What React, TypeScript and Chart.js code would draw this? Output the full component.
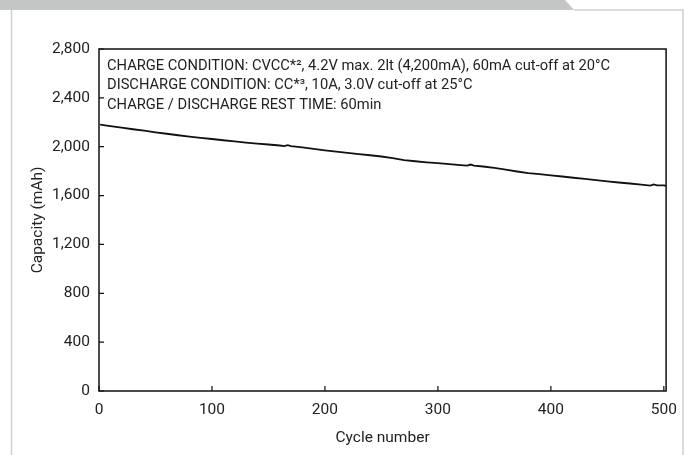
import React, { useEffect, useRef } from "react";
import { Chart, registerables } from "chart.js";

Chart.register(...registerables);

const cycles = [1, 10, 20, 30, 40, 50, 60, 70, 80, 90, 100, 110, 120, 130, 140, 150, 160, 164, 167, 170, 180, 190, 200, 210, 220, 230, 240, 250, 260, 270, 280, 290, 300, 310, 320, 326, 329, 332, 340, 350, 360, 370, 380, 390, 400, 410, 420, 430, 440, 450, 460, 470, 480, 488, 491, 494, 500, 502];
const capacity = [2180, 2168, 2156, 2143, 2131, 2118, 2106, 2094, 2082, 2072, 2063, 2053, 2043, 2034, 2026, 2018, 2010, 2005, 2012, 2005, 1994, 1982, 1970, 1960, 1950, 1940, 1930, 1920, 1906, 1891, 1881, 1872, 1865, 1858, 1850, 1846, 1854, 1845, 1838, 1826, 1812, 1797, 1783, 1775, 1765, 1756, 1746, 1736, 1727, 1717, 1707, 1699, 1690, 1682, 1691, 1684, 1683, 1680];

const xTickValues = [0, 100, 200, 300, 400, 500];
const yTickValues = [0, 400, 800, 1200, 1600, 2000, 2400, 2800];

const noteLines = [
  "CHARGE CONDITION: CVCC*\u00B2, 4.2V max. 2lt (4,200mA), 60mA cut-off at 20\u00B0C",
  "DISCHARGE CONDITION: CC*\u00B3, 10A, 3.0V cut-off at 25\u00B0C",
  "CHARGE / DISCHARGE REST TIME: 60min",
];

const xTitle = "Cycle number";
const yTitle = "Capacity (mAh)";

const FONT = "Roboto, 'DejaVu Sans', sans-serif";

const decorPlugin = {
  id: "decor",
  beforeDraw(chart: any) {
    const ctx = chart.ctx;
    ctx.save();
    ctx.fillStyle = "#ffffff";
    ctx.fillRect(0, 0, chart.width, chart.height);
    ctx.fillStyle = "#c4c5c5";
    ctx.beginPath();
    ctx.moveTo(0, 0);
    ctx.lineTo(565, 0);
    ctx.lineTo(574, 10);
    ctx.lineTo(0, 10);
    ctx.closePath();
    ctx.fill();
    ctx.strokeStyle = "#cfcfcf";
    ctx.lineWidth = 1.5;
    ctx.beginPath();
    ctx.moveTo(11.5, 10);
    ctx.lineTo(11.5, chart.height);
    ctx.moveTo(574, 10);
    ctx.lineTo(683, 10);
    ctx.lineTo(683, chart.height);
    ctx.stroke();
    ctx.restore();
  },
  afterDraw(chart: any) {
    const ctx = chart.ctx;
    const a = chart.chartArea;
    const xs = chart.scales.x;
    const ys = chart.scales.y;
    ctx.save();
    ctx.strokeStyle = "#111111";
    ctx.lineWidth = 1.5;
    ctx.strokeRect(a.left, a.top, a.right - a.left, a.bottom - a.top);
    ctx.lineWidth = 1.2;
    ctx.beginPath();
    xTickValues.forEach((v) => {
      const px = xs.getPixelForValue(v);
      ctx.moveTo(px, a.bottom);
      ctx.lineTo(px, a.bottom - 5);
    });
    yTickValues.forEach((v) => {
      const py = ys.getPixelForValue(v);
      ctx.moveTo(a.left, py);
      ctx.lineTo(a.left + 5, py);
    });
    ctx.stroke();
    ctx.fillStyle = "#222222";
    ctx.font = "14.7px " + FONT;
    ctx.textBaseline = "middle";
    ctx.textAlign = "left";
    noteLines.forEach((t, i) => {
      ctx.fillText(t, a.left + 8, a.top + 17 + i * 19.5);
    });
    ctx.restore();
  },
};

export default function App() {
  const ref = useRef<HTMLCanvasElement>(null);
  useEffect(() => {
    if (!ref.current) return;
    const chart = new Chart(ref.current, {
      type: "line",
      data: {
        datasets: [
          {
            data: cycles.map((c, i) => ({ x: c, y: capacity[i] })),
            borderColor: "#111111",
            borderWidth: 1.8,
            pointRadius: 0,
            tension: 0,
            fill: false,
          },
        ],
      },
      options: {
        responsive: false,
        animation: false,
        events: [],
        layout: { padding: { left: 0, top: 49, right: 20, bottom: 0 } },
        plugins: { legend: { display: false }, tooltip: { enabled: false } },
        scales: {
          x: {
            type: "linear",
            min: 0,
            max: 502,
            afterFit: (s: any) => {
              s.height = 64;
            },
            afterBuildTicks: (s: any) => {
              s.ticks = xTickValues.map((v) => ({ value: v }));
            },
            grid: { display: false, drawTicks: false },
            border: { display: false },
            ticks: {
              padding: 10,
              color: "#222222",
              font: { family: FONT, size: 15.5 },
              maxRotation: 0,
              callback: (v: any) => String(v),
            },
            title: {
              display: true,
              text: xTitle,
              color: "#222222",
              font: { family: FONT, size: 15.5 },
              padding: { top: 0, bottom: 8 },
            },
          },
          y: {
            type: "linear",
            min: 0,
            max: 2800,
            afterFit: (s: any) => {
              s.width = 99;
            },
            afterBuildTicks: (s: any) => {
              s.ticks = yTickValues.map((v) => ({ value: v }));
            },
            grid: { display: false, drawTicks: false },
            border: { display: false },
            ticks: {
              padding: 9,
              color: "#222222",
              font: { family: FONT, size: 15.5 },
              callback: (v: any) => Number(v).toLocaleString("en-US"),
            },
            title: {
              display: true,
              text: yTitle,
              color: "#222222",
              font: { family: FONT, size: 15.5 },
              padding: { top: 29, bottom: 0 },
            },
          },
        },
      },
      plugins: [decorPlugin],
    });
    return () => chart.destroy();
  }, []);
  return (
    <div style={{ position: "fixed", left: 0, top: 0, width: 687, height: 455, background: "#fff" }}>
      <canvas ref={ref} width={687} height={455} style={{ display: "block" }} />
    </div>
  );
}
